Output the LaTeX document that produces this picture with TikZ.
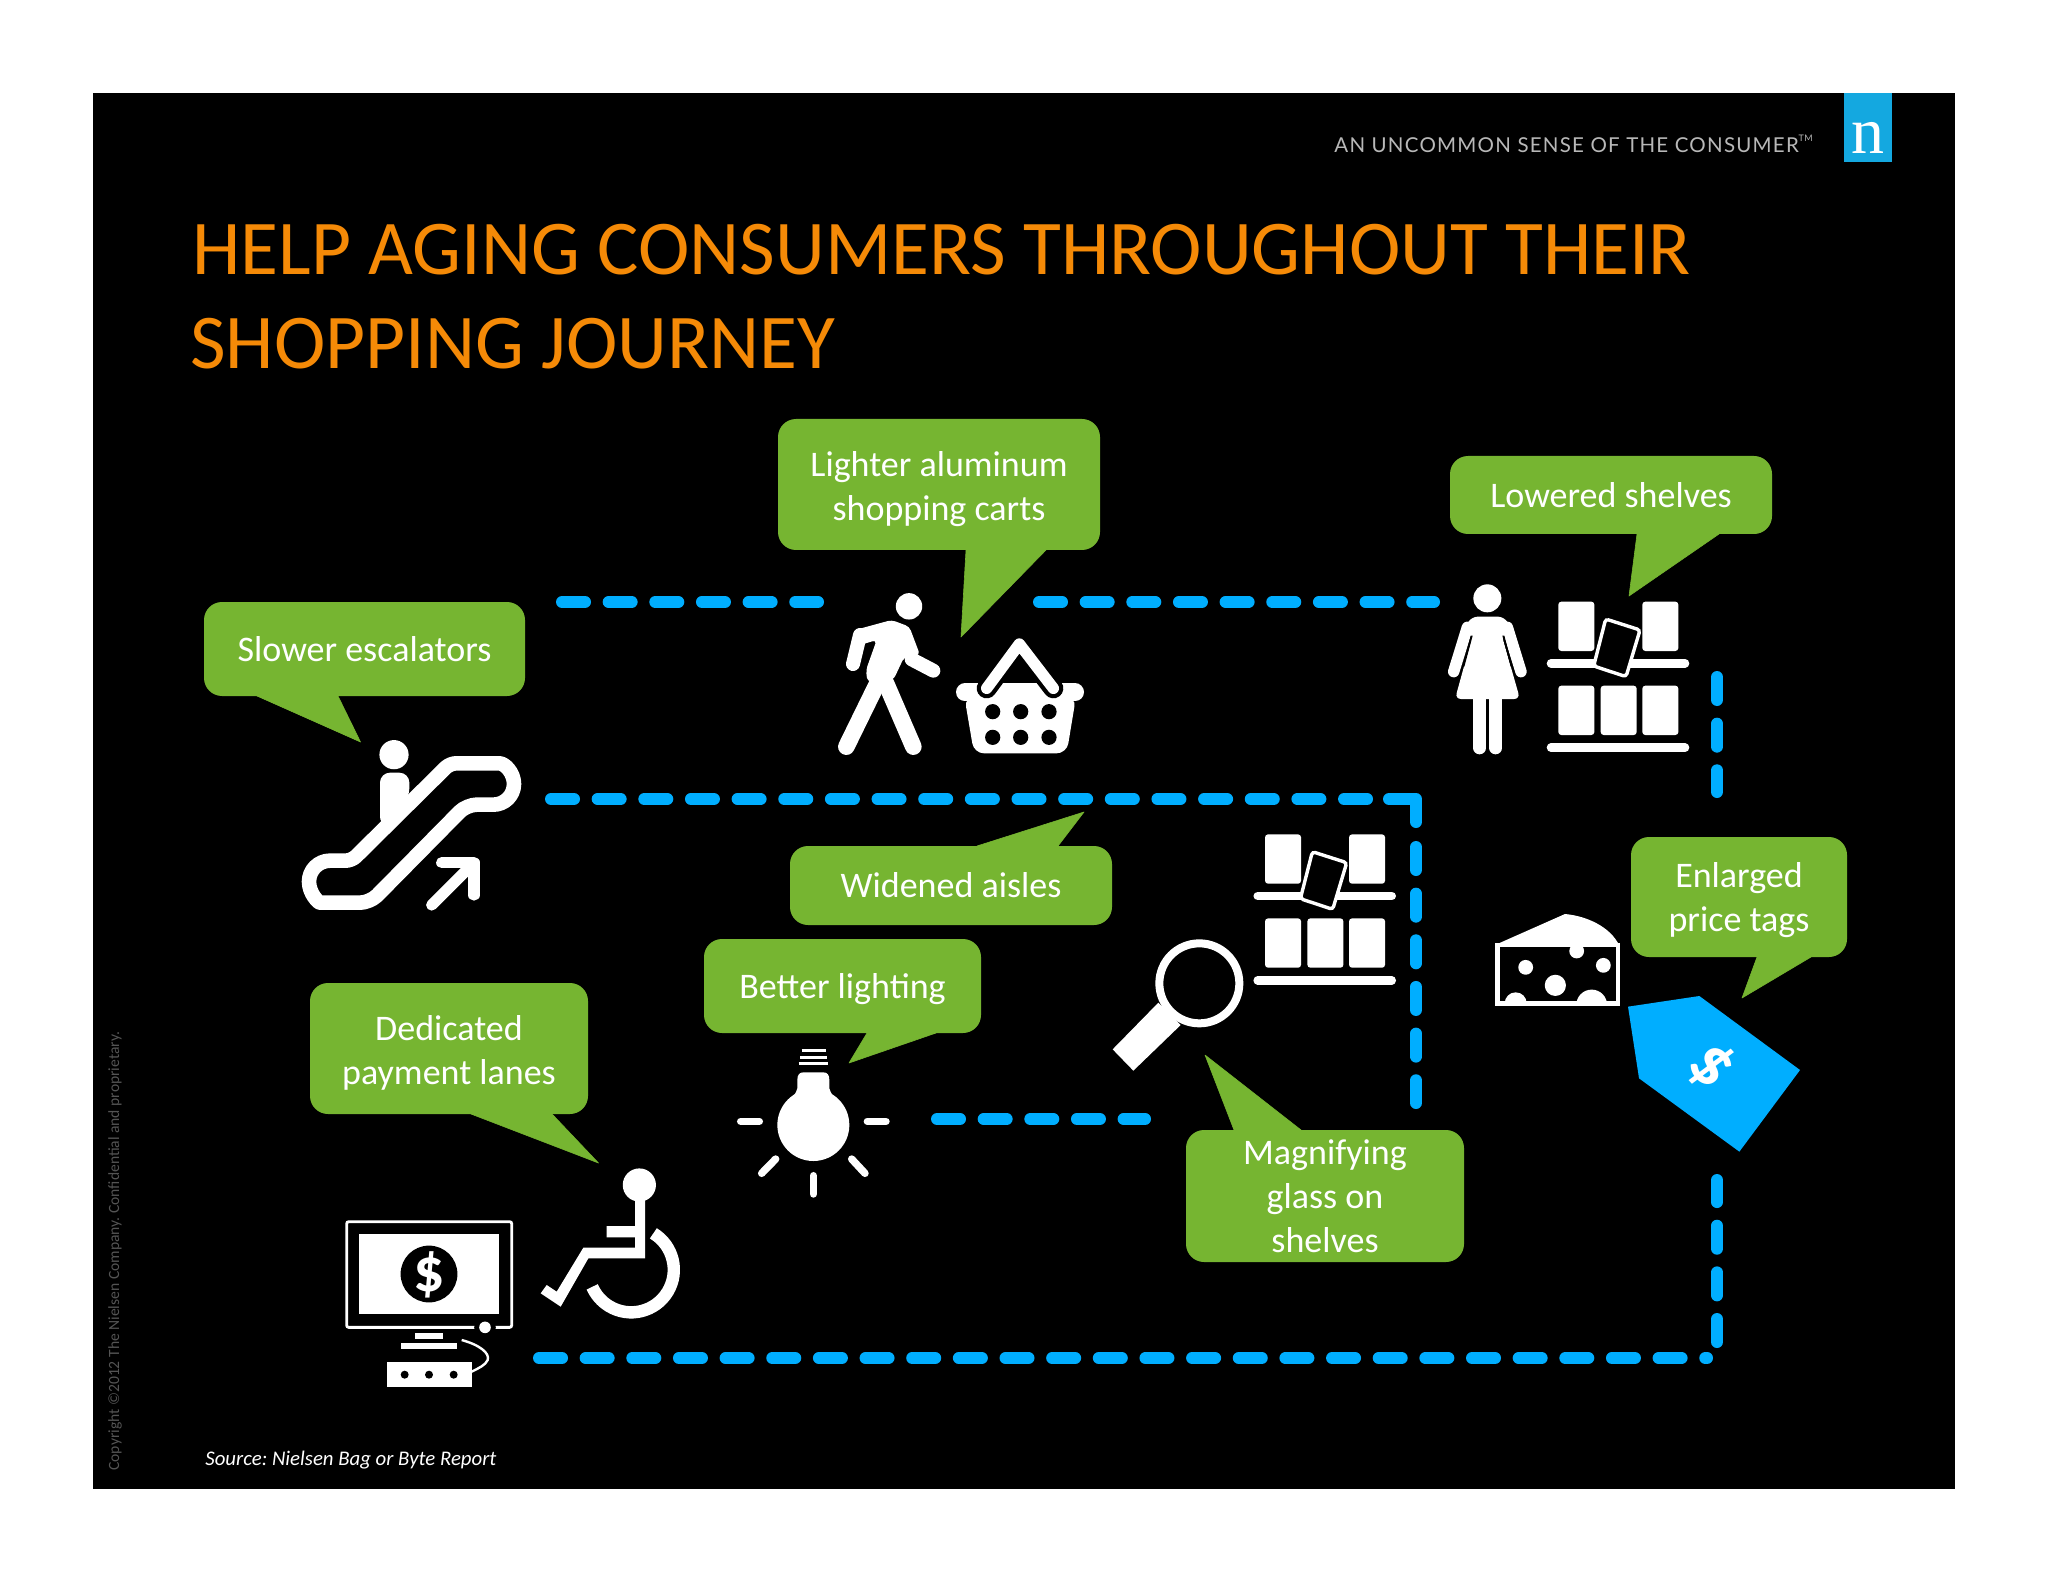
\documentclass[tikz,border=0pt]{standalone}
\usepackage{fontspec}
\setmainfont{Carlito}
\newfontfamily\tagfont[LetterSpace=6]{Lato}
\newfontfamily\logofont{Liberation Serif}
\definecolor{bubblegreen}{HTML}{76B531}
\definecolor{dashblue}{HTML}{00AEFF}
\definecolor{tagblue}{HTML}{00AEFF}
\definecolor{logoblue}{HTML}{14A8E0}
\definecolor{titleorange}{HTML}{F58A07}
\tikzset{
  zoomed/.style 2 args={shift={(#1,#2)},x=0.16667pt,y=-0.16667pt},
  bubble/.style={fill=bubblegreen,rounded corners=9pt,inner sep=0pt},
  bubbletext/.style={text=white,align=center,inner sep=0pt,font=\fontsize{18}{22}\selectfont},
  route/.style={draw=dashblue,line width=6pt,line cap=round,dash pattern=on 11.5pt off 11.825pt},
  routesolid/.style={draw=dashblue,line width=6pt,line cap=round,line join=round},
  limb/.style={draw=white,line cap=round,line join=round}
}
\newcommand{\bubbletail}[3]{\filldraw[bubblegreen,line width=0.3pt,line join=round] #1 -- #2 -- #3 -- cycle;}
\newcommand{\shelficon}{%
  \foreach \xa/\ya in {385/95,637/95,385/347,512/347,637/347}
    \fill[white,rounded corners=1.5pt] (\xa,\ya) rectangle ++(108,148);
  \draw[limb,line width=4.3pt] (363,280) -- (765,280);
  \draw[limb,line width=4.3pt] (363,533) -- (765,533);
  \filldraw[draw=white,fill=black,line width=1.7pt,rounded corners=1.5pt]
    (527,147) -- (630,180) -- (588,320) -- (491,288) -- cycle;
}
\begin{document}
\begin{tikzpicture}[x=0.5pt,y=-0.5pt]
\useasboundingbox (0,0) rectangle (2048,1582);
\fill[white] (0,0) rectangle (2048,1582);
\fill[black] (93,93) rectangle (1955,1489);

% header
\fill[logoblue] (1844,93) rectangle (1892,162);
\node[text=white,inner sep=0pt,anchor=base,font=\logofont\fontsize{33}{33}\selectfont] (logo) at (1868,154) {n};
\node[text=white!72!black,inner sep=0pt,anchor=base west,font=\tagfont\fontsize{10.25}{12}\selectfont] (tagline) at (1334,153) {AN UNCOMMON SENSE OF THE CONSUMER\raisebox{1.1ex}{\fontsize{4.5}{5}\selectfont TM}};

% title
\node[text=titleorange,inner sep=0pt,anchor=base west,font=\fontsize{38.75}{46}\selectfont] (title1) at (192,275) {HELP AGING CONSUMERS THROUGHOUT THEIR};
\node[text=titleorange,inner sep=0pt,anchor=base west,font=\fontsize{38.75}{46}\selectfont] (title2) at (190,369) {SHOPPING JOURNEY};

% routes
\coordinate (r1a) at (562,602); \coordinate (r1b) at (818,602);
\coordinate (r2a) at (1039,602); \coordinate (r2b) at (1434,602);
\coordinate (r3a) at (1717,677); \coordinate (r3b) at (1717,792);
\coordinate (r4a) at (551,799); \coordinate (r4b) at (1367,799);
\coordinate (r4c) at (1389,799); \coordinate (r4d) at (1416,799); \coordinate (r4e) at (1416,822);
\coordinate (r4f) at (1416,847); \coordinate (r4g) at (1416,1103);
\coordinate (r5a) at (937,1119); \coordinate (r5b) at (1145,1119);
\coordinate (r6a) at (539,1358); \coordinate (r6b) at (1707,1358);
\coordinate (r6c) at (1717,1342); \coordinate (r6d) at (1717,1180);
\draw[route] (r1a) -- (r1b);
\draw[route] (r2a) -- (r2b);
\draw[route] (r3a) -- (r3b);
\draw[route] (r4a) -- (r4b);
\draw[routesolid] (r4c) -- (r4d) -- (r4e);
\draw[route] (r4f) -- (r4g);
\draw[route] (r5a) -- (r5b);
\draw[route] (r6a) -- (r6b);
\draw[route] (r6c) -- (r6d);

% bubbles
\bubbletail{(966,550)}{(961,637)}{(1046,550)}
\node[bubble,minimum width=161pt,minimum height=65.5pt] (carts) at (939,484.5) {};
\node[bubbletext,yshift=-2.5pt] (cartstext) at (carts.center) {Lighter aluminum\\shopping carts};
\bubbletail{(1637,534)}{(1629,596)}{(1719,534)}
\node[bubble,minimum width=161pt,minimum height=39pt] (shelves) at (1611,495) {};
\node[bubbletext] (shelvestext) at (shelves.center) {Lowered shelves};
\bubbletail{(257,696)}{(360.5,742)}{(338,696)}
\node[bubble,minimum width=160.5pt,minimum height=47pt] (escal) at (364.5,649) {};
\node[bubbletext] (escaltext) at (escal.center) {Slower escalators};
\bubbletail{(977,846)}{(1084,812)}{(1058,846)}
\node[bubble,minimum width=161pt,minimum height=39.5pt] (aisles) at (951,885.5) {};
\node[bubbletext] (aislestext) at (aisles.center) {Widened aisles};
\bubbletail{(867,1033)}{(849,1063)}{(936,1033)}
\node[bubble,minimum width=138.5pt,minimum height=47pt] (lighting) at (842.5,986) {};
\node[bubbletext,yshift=-1.7pt] (lightingtext) at (lighting.center) {Better lighting};
\bubbletail{(471,1114)}{(598.5,1163)}{(552,1114)}
\node[bubble,minimum width=139pt,minimum height=65.5pt] (lanes) at (449,1048.5) {};
\node[bubbletext,yshift=-2pt] (lanestext) at (lanes.center) {Dedicated\\payment lanes};
\bubbletail{(1234,1130)}{(1205,1055)}{(1301,1130)}
\node[bubble,minimum width=139pt,minimum height=66pt] (glass) at (1325,1196) {};
\node[bubbletext] (glasstext) at (glass.center) {Magnifying\\glass on\\shelves};
\bubbletail{(1757,957)}{(1742,998)}{(1811,957)}
\node[bubble,minimum width=108pt,minimum height=60pt] (tags) at (1739,897) {};
\node[bubbletext,yshift=-1.5pt] (tagstext) at (tags.center) {Enlarged\\price tags};

% walker and basket
\begin{scope}[zoomed={780}{570}]
  \fill[white] (387,109) circle[radius=6.6pt];
  \fill[white,rounded corners=2pt] (232,178) -- (335,150) -- (388,170) -- (420,255) -- (372,262) -- (340,330) -- (262,335) -- (258,300) -- (290,210) -- (240,225) -- cycle;
  \draw[limb,line width=7pt] (240,195) -- (219,282);
  \draw[limb,line width=7pt] (395,268) -- (460,302);
  \draw[limb,line width=8.3pt] (292,340) -- (199,530);
  \draw[limb,line width=8.3pt] (318,340) -- (400,530);
  % basket
  \draw[limb,line width=9pt] (555,367) -- (885,367);
  \fill[white,rounded corners=5pt] (553,380) -- (888,380) -- (860,550) -- (582,550) -- cycle;
  \draw[draw=black,line width=10pt,line cap=round,line join=round] (620,355) -- (718,222) -- (820,355);
  \draw[limb,line width=5.7pt] (620,355) -- (718,222) -- (820,355);
  \foreach \hx in {638,722,807} \foreach \hy in {425,502}
    \fill[black] (\hx,\hy) circle[radius=3.8pt];
\end{scope}

% woman
\begin{scope}[zoomed={1430}{570}]
  \fill[white] (172,85) circle[radius=7pt];
  \draw[limb,line width=5.7pt] (112,172) -- (71,305);
  \draw[limb,line width=5.7pt] (232,172) -- (273,305);
  \fill[white,rounded corners=3pt] (96,185) -- (125,140) -- (222,140) -- (250,185) -- (215,195) -- (270,387) -- (75,387) -- (128,195) -- cycle;
  \draw[limb,line width=6.3pt] (149,385) -- (149,534);
  \draw[limb,line width=6.3pt] (197,385) -- (197,534);
  \fill[black] (128,197) -- (122,197) -- (98,290) -- (103,290) -- cycle;
  \fill[black] (217,197) -- (223,197) -- (247,290) -- (242,290) -- cycle;
\end{scope}

% shelves, twice
\begin{scope}[zoomed={1430}{570}]\shelficon\end{scope}
\begin{scope}[zoomed={1136.7}{802.7}]\shelficon\end{scope}

% escalator
\begin{scope}[zoomed={280}{720}]
  \fill[white] (342,104) circle[radius=7.3pt];
  \fill[white,rounded corners=5pt] (300,320) -- (300,158) -- (388,158) -- (388,235) -- cycle;
  \draw[white,line width=7.3pt,line join=round]
    (150,422) [rounded corners=3pt] -- (215,422) -- (510,130) -- (640,130) [sharp corners]
    arc[start angle=90,end angle=-90,radius=10.33pt]
    [rounded corners=5pt] -- (560,254) -- (270,548) -- (150,548) [sharp corners]
    arc[start angle=-90,end angle=-270,radius=10.5pt] -- cycle;
  \draw[limb,line width=5.6pt] (455,555) -- (578,432);
  \draw[limb,line width=5.6pt] (485,428) -- (582,428) -- (582,525);
\end{scope}

% computer and wheelchair
\begin{scope}[zoomed={320}{1150}]
  \draw[white,line width=1.4pt,rounded corners=1pt] (80,215) rectangle (575,532);
  \fill[black] (495,532) circle[radius=5.4pt];
  \fill[white] (495,532) circle[radius=2.9pt];
  \fill[white] (118,253) rectangle (538,493);
  \fill[black] (327,372) circle[radius=14.2pt];
  \node[text=white,inner sep=0pt,font=\bfseries\fontsize{31}{31}\selectfont] (pay) at (327,375) {\$};
  \fill[white] (285,550) rectangle (370,568);
  \fill[white] (243,580) rectangle (412,598);
  \fill[white] (200,635) rectangle (455,712);
  \foreach \hx in {254,327,401} \fill[black] (\hx,674) circle[radius=2pt];
  \draw[white,line width=1.2pt] (425,570) .. controls (480,585) and (510,610) .. (503,630) .. controls (497,645) and (475,655) .. (455,665);
  % wheelchair
  \fill[white] (958,105) circle[radius=8.3pt];
  \fill[white] (945,145) -- (975,145) -- (975,325) -- (805,325) -- (722,470) -- (662,430) -- (680,405) -- (710,425) -- (790,293) -- (945,293) -- (945,262) -- (860,262) -- (860,228) -- (945,228) -- cycle;
  \draw[white,line width=6.2pt] (1000,250) arc[start angle=58.7,end angle=-156.3,radius=21.3pt];
\end{scope}

% light bulb
\begin{scope}[zoomed={720}{1030}]
  \draw[white,line width=1.3pt] (245,62) -- (318,62) (240,82) -- (322,82) (236,101) -- (325,101);
  \fill[white] (280,285) circle[radius=18pt];
  \fill[white] (250,127) -- (310,127) .. controls (322,127) and (328,135) .. (328,150) -- (328,175) .. controls (335,205) and (375,230) .. (385,270) -- (175,270) .. controls (185,230) and (225,205) .. (232,175) -- (232,150) .. controls (232,135) and (238,127) .. (250,127) -- cycle;
  \draw[limb,line width=3.7pt] (62,274) -- (118,274);
  \draw[limb,line width=3.7pt] (442,274) -- (498,274);
  \draw[limb,line width=3.7pt] (280,437) -- (280,492);
  \draw[limb,line width=3.7pt] (125,430) -- (167,387);
  \draw[limb,line width=3.7pt] (395,387) -- (435,430);
\end{scope}

% magnifying glass
\begin{scope}[zoomed={1100}{820}]
  \draw[white,line width=4pt] (298,490) circle[radius=20pt];
  \fill[white] (175,548) -- (242,615) -- (100,752) -- (38,688) -- cycle;
\end{scope}

% cheese and price tag
\begin{scope}[zoomed={1470}{890}]
  \fill[white] (75,165) -- (285,72) .. controls (350,78) and (420,110) .. (447,165) -- cycle;
  \begin{scope}
    \clip (82,165) rectangle (444,340);
    \fill[white] (320,183) circle[radius=3.7pt];
    \fill[white] (167,232) circle[radius=3.7pt];
    \fill[white] (400,226) circle[radius=3.7pt];
    \fill[white] (256,286) circle[radius=5.3pt];
    \fill[white] (137,340) circle[radius=5.5pt];
    \fill[white] (365,345) circle[radius=7.7pt];
  \end{scope}
  \draw[white,line width=2.3pt] (82,165) rectangle (444,340);
  \fill[tagblue] (474,350) -- (688,318) -- (990,540) -- (808,785) -- (507,565) -- cycle;
  \node[text=white,inner sep=0pt,rotate=-48,font=\bfseries\fontsize{35}{35}\selectfont] (dollar) at (723,527) {\$};
\end{scope}

% footer
\node[text=white,inner sep=0pt,anchor=base west,font=\itshape\frenchspacing\fontsize{10.4}{12}\selectfont] (source) at (205,1465) {Source: Nielsen Bag or Byte Report};
\node[text=white!33!black,inner sep=0pt,anchor=west,rotate=90,font=\frenchspacing\fontsize{7.8}{9}\selectfont] (copy) at (115,1471) {Copyright ©2012 The Nielsen Company. Confidential and proprietary.};
\end{tikzpicture}
\end{document}
